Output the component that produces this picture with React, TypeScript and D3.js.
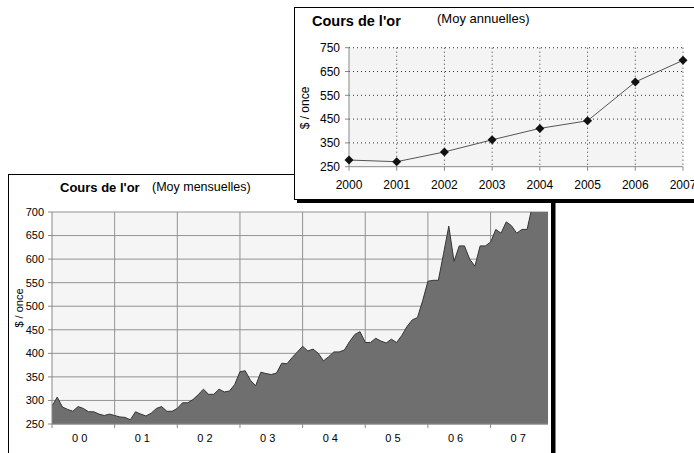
import React from "react";
import * as d3 from "d3";

// ---- Data ----
const years = ["2000", "2001", "2002", "2003", "2004", "2005", "2006", "2007"];
const annualAvg = [278, 271, 312, 363, 411, 443, 606, 697];
const annualTicks = [250, 350, 450, 550, 650, 750];

const yearLabels = ["0 0", "0 1", "0 2", "0 3", "0 4", "0 5", "0 6", "0 7"];
const m2000 = [288, 307, 286, 281, 277, 287, 283, 276, 276, 271, 268, 271];
const m2001 = [268, 265, 264, 259, 276, 271, 267, 273, 283, 287, 277, 277];
const m2002 = [283, 295, 295, 302, 312, 324, 313, 313, 324, 318, 320, 334];
const m2003 = [361, 363, 343, 331, 360, 357, 355, 358, 379, 378, 391, 403];
const m2004 = [415, 405, 409, 400, 384, 393, 403, 403, 407, 425, 440, 446];
const m2005 = [423, 423, 432, 426, 422, 430, 423, 438, 457, 471, 476, 512];
const m2006 = [553, 555, 555, 612, 670, 595, 628, 628, 600, 585, 628, 628];
const m2007 = [636, 663, 655, 679, 671, 655, 663, 663, 713, 755, 806, 803];
const monthlyTicks = [250, 300, 350, 400, 450, 500, 550, 600, 650, 700];

const monthly = [...m2000, ...m2001, ...m2002, ...m2003, ...m2004, ...m2005, ...m2006, ...m2007];

const FONT = "'Liberation Sans', Arial, sans-serif";

export default function App() {
  // Lower chart (monthly)
  const L = { left: 52, right: 548, top: 212, bottom: 424 };
  const xM = d3.scaleLinear().domain([0, monthly.length - 1]).range([L.left, L.right]);
  const yM = d3.scaleLinear().domain([250, 700]).range([L.bottom, L.top]);
  const area = d3
    .area<number>()
    .x((_, i) => xM(i))
    .y0(yM(250))
    .y1((d) => yM(d));
  const line = d3
    .line<number>()
    .x((_, i) => xM(i))
    .y((d) => yM(d));
  const yearStarts = yearLabels.map((_, k) => k * 12);

  // Upper chart (annual)
  const T = { left: 349, right: 683, top: 47.7, bottom: 166.7 };
  const xA = d3.scalePoint<string>().domain(years).range([T.left, T.right]);
  const yA = d3.scaleLinear().domain([250, 750]).range([T.bottom, T.top]);
  const lineA = d3
    .line<number>()
    .x((_, i) => xA(years[i]) as number)
    .y((d) => yA(d));
  const diamond = (cx: number, cy: number, r: number) =>
    `M${cx},${cy - r}L${cx + r},${cy}L${cx},${cy + r}L${cx - r},${cy}Z`;

  return (
    <svg
      width={694}
      height={453}
      style={{ position: "absolute", left: 0, top: 0, background: "#fff" }}
      fontFamily={FONT}
    >
      <defs>
        <clipPath id="plotM">
          <rect x={L.left} y={L.top} width={L.right - L.left} height={L.bottom - L.top} />
        </clipPath>
      </defs>

      {/* ===== Lower chart ===== */}
      <rect x={8.5} y={174.5} width={543} height={300} fill="#fff" stroke="#000" strokeWidth={1} />
      <rect x={552} y={178} width={3.5} height={300} fill="#000" />

      <text x={60} y={191.5} fontSize={13} fontWeight="bold" fill="#000">
        Cours de l'or
      </text>
      <text x={152} y={191} fontSize={12.5} fill="#000">
        (Moy mensuelles)
      </text>

      <rect x={L.left} y={L.top} width={L.right - L.left} height={L.bottom - L.top} fill="#f5f5f5" />
      {monthlyTicks.map((t) => (
        <line key={"hg" + t} x1={L.left} x2={L.right} y1={yM(t)} y2={yM(t)} stroke="#939393" strokeWidth={1} />
      ))}
      {yearStarts.slice(1).map((s) => (
        <line key={"vg" + s} x1={xM(s)} x2={xM(s)} y1={L.top} y2={L.bottom} stroke="#939393" strokeWidth={1} />
      ))}

      <g clipPath="url(#plotM)">
        <path d={area(monthly) || ""} fill="#6f6f6f" />
        <path d={line(monthly) || ""} fill="none" stroke="#353535" strokeWidth={1} />
      </g>

      <line x1={L.left} x2={L.left} y1={L.top} y2={L.bottom} stroke="#888" />
      <line x1={L.left} x2={L.right} y1={L.bottom} y2={L.bottom} stroke="#888" />
      {monthlyTicks.map((t) => (
        <g key={"yt" + t}>
          <line x1={L.left - 4} x2={L.left} y1={yM(t)} y2={yM(t)} stroke="#888" />
          <text x={44} y={yM(t)} dy="0.35em" fontSize={11} textAnchor="end" fill="#000">
            {t}
          </text>
        </g>
      ))}
      {yearStarts.map((s) => (
        <line key={"xt" + s} x1={xM(s)} x2={xM(s)} y1={L.bottom} y2={L.bottom + 4} stroke="#888" />
      ))}
      {yearLabels.map((lab, k) => (
        <text key={lab} x={xM(k * 12 + 5.3)} y={441.5} fontSize={11} textAnchor="middle" fill="#000">
          {lab}
        </text>
      ))}
      <text transform="translate(23,308) rotate(-90)" fontSize={11} textAnchor="middle" fill="#000">
        $ / once
      </text>

      {/* ===== Upper chart ===== */}
      <rect x={297} y={199.5} width={420} height={3.5} fill="#000" />
      <rect x={294.5} y={7.5} width={420} height={192} fill="#fff" stroke="#000" strokeWidth={1} />

      <text x={312} y={26} fontSize={14.5} fontWeight="bold" fill="#000">
        Cours de l'or
      </text>
      <text x={437} y={23} fontSize={13} fill="#000">
        (Moy annuelles)
      </text>

      <rect x={T.left} y={T.top} width={T.right - T.left} height={T.bottom - T.top} fill="#f4f4f4" />
      {annualTicks.slice(1).map((t) => (
        <line
          key={"ah" + t}
          x1={T.left}
          x2={T.right}
          y1={yA(t)}
          y2={yA(t)}
          stroke="#333"
          strokeWidth={1}
          strokeDasharray="1,3"
        />
      ))}
      {years.slice(1).map((yr) => (
        <line
          key={"av" + yr}
          x1={xA(yr)}
          x2={xA(yr)}
          y1={T.top}
          y2={T.bottom}
          stroke="#333"
          strokeWidth={1}
          strokeDasharray="1,3"
        />
      ))}
      <line x1={T.left} x2={T.left} y1={T.top} y2={T.bottom} stroke="#888" />
      <line x1={T.left} x2={T.right} y1={T.bottom} y2={T.bottom} stroke="#888" />
      {annualTicks.map((t) => (
        <g key={"ayt" + t}>
          <line x1={T.left - 4} x2={T.left} y1={yA(t)} y2={yA(t)} stroke="#888" />
          <text x={340} y={yA(t)} dy="0.35em" fontSize={12} textAnchor="end" fill="#000">
            {t}
          </text>
        </g>
      ))}
      {years.map((yr) => (
        <g key={"axt" + yr}>
          <line x1={xA(yr)} x2={xA(yr)} y1={T.bottom} y2={T.bottom + 4} stroke="#888" />
          <text x={xA(yr)} y={189} fontSize={12} textAnchor="middle" fill="#000">
            {yr}
          </text>
        </g>
      ))}
      <text transform="translate(309,108) rotate(-90)" fontSize={12} textAnchor="middle" fill="#000">
        $ / once
      </text>

      <path d={lineA(annualAvg) || ""} fill="none" stroke="#555" strokeWidth={1} />
      {annualAvg.map((v, i) => (
        <path key={"mk" + i} d={diamond(xA(years[i]) as number, yA(v), 4.5)} fill="#111" />
      ))}
    </svg>
  );
}
